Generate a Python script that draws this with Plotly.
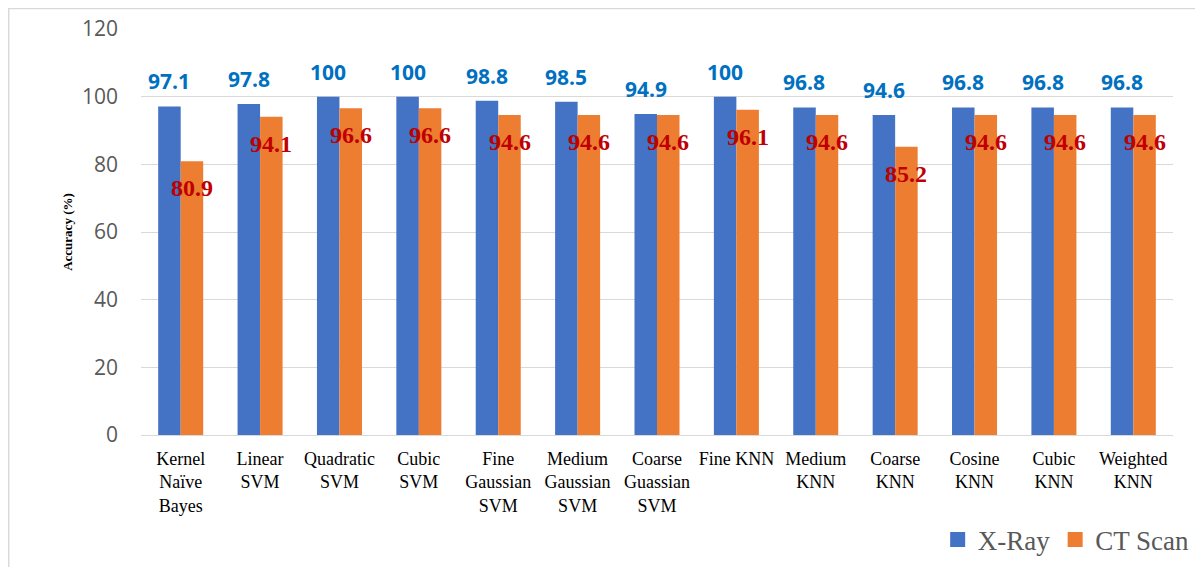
import plotly.graph_objects as go

categories = ["Kernel<br>Naïve<br>Bayes", "Linear<br>SVM", "Quadratic<br>SVM", "Cubic<br>SVM",
              "Fine<br>Gaussian<br>SVM", "Medium<br>Gaussian<br>SVM", "Coarse<br>Guassian<br>SVM",
              "Fine KNN", "Medium<br>KNN", "Coarse<br>KNN", "Cosine<br>KNN", "Cubic<br>KNN", "Weighted<br>KNN"]
xray = [97.1, 97.8, 100, 100, 98.8, 98.5, 94.9, 100, 96.8, 94.6, 96.8, 96.8, 96.8]
ct = [80.9, 94.1, 96.6, 96.6, 94.6, 94.6, 94.6, 96.1, 94.6, 85.2, 94.6, 94.6, 94.6]
y_ticks = [0, 20, 40, 60, 80, 100, 120]

BLUE = "#4472C4"
ORANGE = "#ED7D31"

fig = go.Figure()
fig.add_trace(go.Bar(name="X-Ray", x=categories, y=xray, marker_color=BLUE, marker_line_width=0,
                     showlegend=False))
fig.add_trace(go.Bar(name="CT Scan", x=categories, y=ct, marker_color=ORANGE, marker_line_width=0,
                     showlegend=False))
# legend entries with larger square swatches
for name, col in [("X-Ray", BLUE), ("CT Scan", ORANGE)]:
    fig.add_trace(go.Scatter(name=name, x=[None], y=[None], mode="markers",
                             marker=dict(symbol="square", size=15, color=col), showlegend=True))

annotations = []
for c, v in zip(categories, xray):
    annotations.append(dict(x=c, y=v, xref="x", yref="y", text=f"{v:g}", showarrow=False,
                            xshift=-11.3, yshift=25, yanchor="middle",
                            font=dict(family="Open Sans", size=21, color="#0070C0", weight="bold")))
for c, v in zip(categories, ct):
    annotations.append(dict(x=c, y=v, xref="x", yref="y", text=f"{v:g}", showarrow=False,
                            xshift=11.3, yshift=-27, yanchor="middle",
                            font=dict(family="Liberation Serif", size=24, color="#C00000", weight="bold")))

fig.update_layout(
    width=1195, height=559,
    margin=dict(l=133, r=30, t=21, b=132, autoexpand=False),
    paper_bgcolor="white", plot_bgcolor="white",
    barmode="group", bargap=0.433, bargroupgap=0,
    annotations=annotations,
    showlegend=True,
    legend=dict(orientation="h", x=1.021, xanchor="right", y=-0.2586, yanchor="middle",
                font=dict(family="Liberation Serif", size=27, color="#595959"),
                itemsizing="trace", itemwidth=30, traceorder="normal"),
    shapes=[dict(type="rect", xref="paper", yref="paper", x0=-0.1282, x1=1.05, y0=-0.4, y1=1.0505,
                 line=dict(color="#D9D9D9", width=1.5), fillcolor="rgba(0,0,0,0)", layer="below")],
)
fig.update_yaxes(range=[0, 120], tickvals=y_ticks, showgrid=True, gridcolor="#D9D9D9", gridwidth=1,
                 zeroline=True, zerolinecolor="#D9D9D9", zerolinewidth=1, showline=False,
                 tickfont=dict(family="Open Sans", size=21, color="#595959"),
                 ticklabelstandoff=22, automargin=False,
                 title=dict(text="Accuracy (%)", standoff=6,
                            font=dict(family="Liberation Serif", size=13, color="black", weight="bold")))
fig.update_xaxes(showline=False, automargin=False,
                 tickfont=dict(family="Liberation Serif", size=18, color="black"),
                 ticklabelstandoff=11)

fig.write_html("out.html")
